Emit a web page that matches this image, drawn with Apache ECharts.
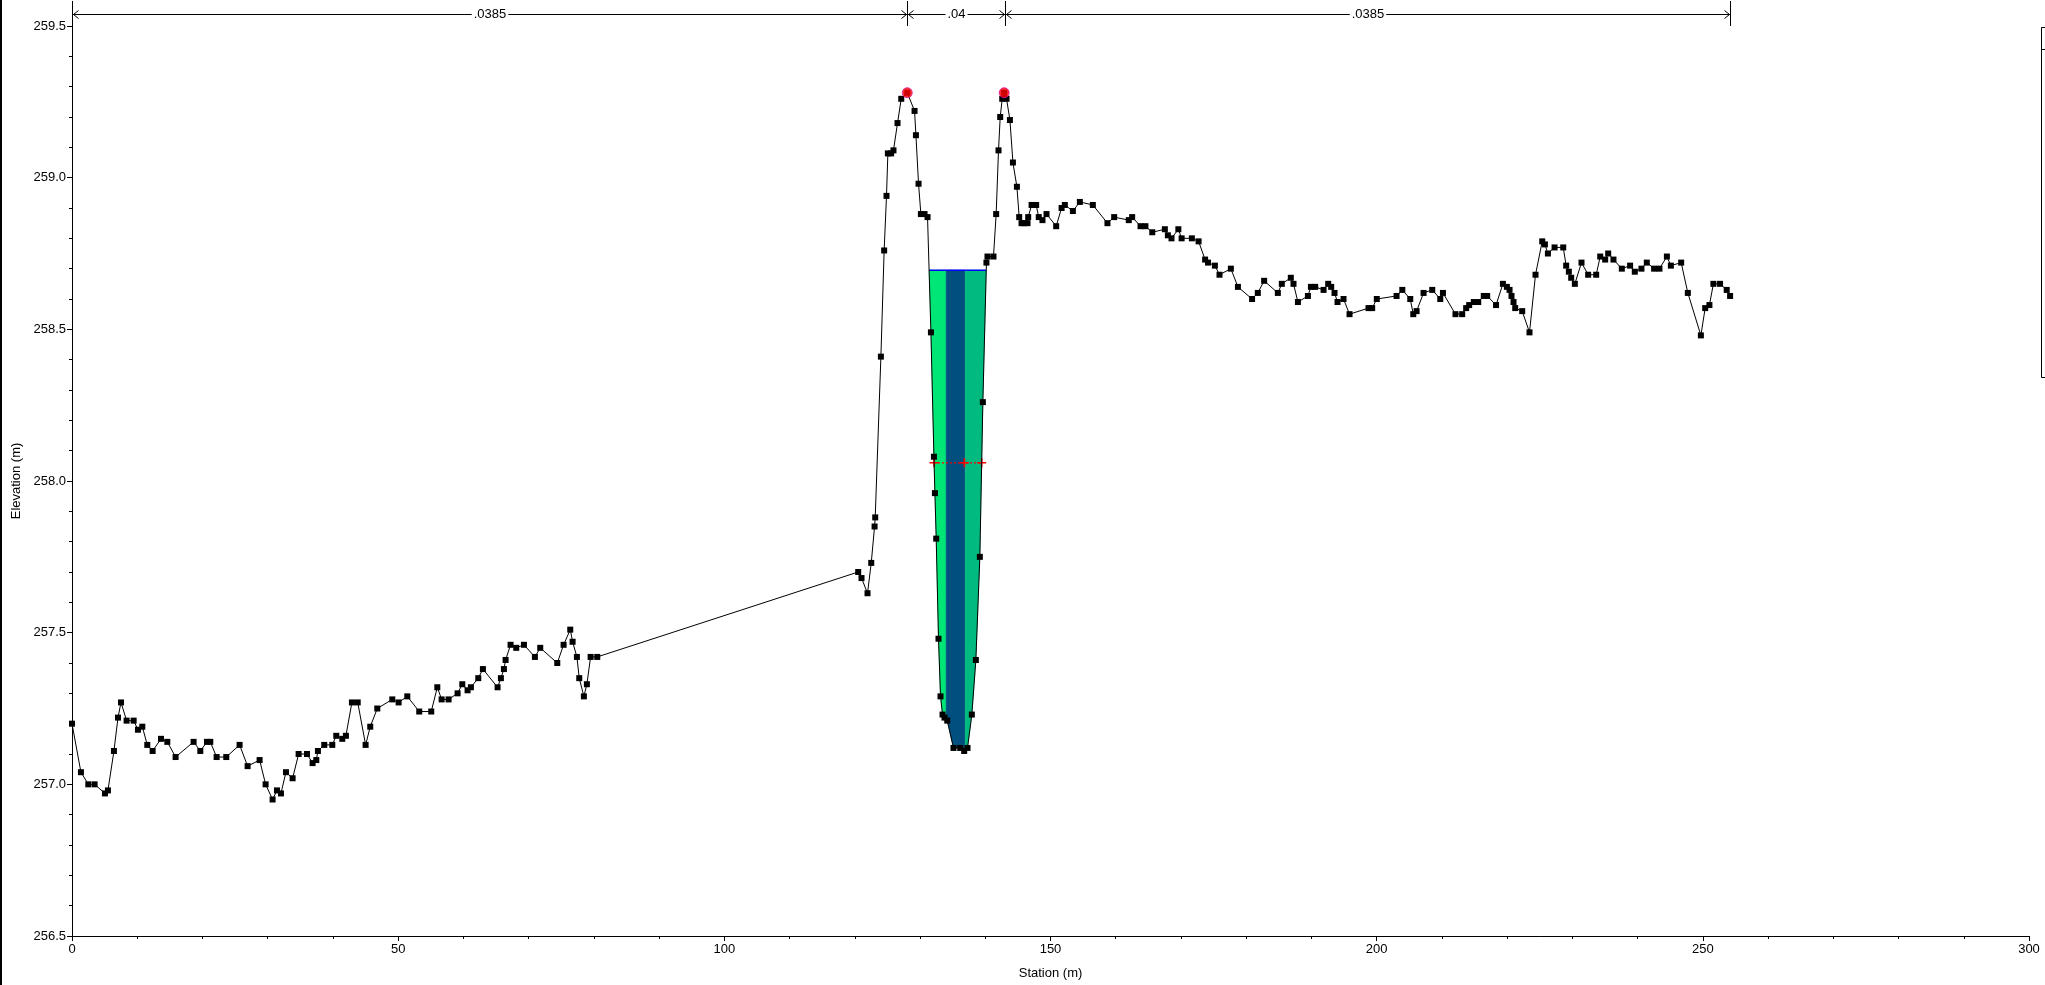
<!DOCTYPE html>
<html>
<head>
<meta charset="utf-8">
<script src="https://cdn.jsdelivr.net/npm/echarts@6/dist/echarts.min.js"></script>
<style>
html,body{margin:0;padding:0;background:#fff;}
#chart{width:2045px;height:985px;}
</style>
</head>
<body>
<div id="chart"></div>
<script>
// ---- Data ----
const stations = [
0.0,1.37,2.50,3.47,5.05,5.51,6.43,7.05,7.51,8.37,9.45,10.11,10.78,11.54,12.36,13.64,14.61,15.88,18.64,19.67,
20.69,21.2,22.17,23.65,25.69,26.92,28.76,29.68,30.75,31.42,32.03,32.80,33.82,34.74,36.02,36.88,37.45,37.70,38.67,39.90,
40.51,41.43,41.99,42.91,43.8,45.01,45.72,46.80,49.10,50.07,51.40,53.23,55.07,56.0,56.66,57.73,59.11,59.83,60.64,61.15,
62.28,62.99,65.24,65.75,66.21,66.47,67.23,68.1,69.28,70.96,71.78,74.39,75.36,76.38,76.74,77.40,77.76,78.47,78.93,79.50,
80.52,120.52,121.03,121.95,122.52,123.03,123.13,124.0,124.5,124.86,125.07,125.57,125.93,126.55,127.12,128.04,129.16,129.37,129.77,130.13,
130.69,131.15,131.67,132.13,132.28,132.48,132.83,133.14,133.45,133.75,134.17,135.13,136.16,136.77,137.28,137.94,138.56,139.17,139.63,140.18,
140.34,141.26,141.67,142.03,142.29,142.6,142.9,143.26,143.78,144.24,144.85,145.2,145.56,145.97,146.48,146.58,147.1,147.8,148.2,148.77,
149.39,150.87,151.7,152.2,153.43,154.5,156.49,158.73,159.76,162.0,162.52,163.8,164.55,165.6,167.53,167.99,168.55,169.6,170.1,171.67,
172.7,173.7,174.15,175.2,175.91,177.65,178.73,180.9,181.78,182.75,184.85,185.46,186.84,187.25,187.93,189.46,189.92,190.58,191.86,192.57,
193.03,193.54,194.0,194.92,195.84,198.75,199.31,200.02,203.05,203.93,205.15,205.61,206.12,207.19,208.52,209.75,210.16,212.08,213.11,213.72,
214.18,214.89,215.57,216.42,216.94,218.3,219.35,219.96,220.37,220.67,220.98,221.24,222.31,223.43,224.35,225.38,225.79,226.25,227.27,228.6,
229.05,229.46,229.82,230.38,231.4,232.42,233.65,234.27,235.03,235.49,236.3,237.58,238.85,239.57,240.59,241.41,242.53,243.35,244.49,245.1,
246.68,247.70,249.70,250.36,251.01,251.62,252.64,253.66,254.18
];
const elevations = [
257.20,257.04,257.00,257.00,256.97,256.98,257.11,257.22,257.27,257.21,257.21,257.18,257.19,257.13,257.11,257.15,257.14,257.09,257.14,257.11,
257.14,257.14,257.09,257.09,257.13,257.06,257.08,257.00,256.95,256.98,256.97,257.04,257.02,257.10,257.10,257.07,257.08,257.11,257.13,257.13,
257.16,257.15,257.16,257.27,257.27,257.13,257.19,257.25,257.28,257.27,257.29,257.24,257.24,257.32,257.28,257.28,257.30,257.33,257.31,257.32,
257.35,257.38,257.32,257.35,257.38,257.41,257.46,257.45,257.46,257.42,257.45,257.40,257.46,257.51,257.47,257.42,257.35,257.29,257.33,257.42,
257.42,257.70,257.68,257.63,257.73,257.85,257.88,258.41,258.76,258.94,259.08,259.08,259.09,259.18,259.26,259.28,259.22,259.14,258.98,258.88,
258.88,258.87,258.49,258.08,257.96,257.81,257.48,257.29,257.23,257.22,257.21,257.12,257.12,257.11,257.12,257.23,257.41,257.75,258.26,258.72,
258.74,258.74,258.88,259.09,259.20,259.26,259.28,259.26,259.19,259.05,258.97,258.87,258.85,258.85,258.85,258.87,258.91,258.91,258.87,258.86,
258.88,258.84,258.90,258.91,258.89,258.92,258.91,258.85,258.87,258.86,258.87,258.84,258.84,258.82,258.83,258.81,258.80,258.83,258.80,258.80,
258.79,258.73,258.72,258.71,258.68,258.70,258.64,258.60,258.62,258.66,258.62,258.65,258.67,258.65,258.59,258.61,258.64,258.64,258.63,258.65,
258.64,258.62,258.59,258.60,258.55,258.57,258.57,258.60,258.61,258.63,258.60,258.55,258.56,258.62,258.63,258.60,258.62,258.55,258.55,258.57,
258.58,258.59,258.59,258.61,258.61,258.58,258.65,258.64,258.63,258.61,258.59,258.57,258.56,258.49,258.68,258.79,258.78,258.75,258.77,258.77,
258.71,258.69,258.67,258.65,258.72,258.68,258.68,258.74,258.73,258.75,258.73,258.70,258.71,258.69,258.70,258.72,258.70,258.70,258.74,258.71,
258.72,258.62,258.48,258.57,258.58,258.65,258.65,258.63,258.61
];
const bankStations = [128.04, 142.9];
const bankElevations = [259.28, 259.28];
const wsElevation = 258.695;
const critElevation = 258.06;
const critStations = [132.15, 136.8, 139.45];
const velStripBreaks = [134.0, 136.93];
const velStripColors = ['#00E676', '#004F7E', '#00BA80'];
const nBreaks = [0, 127.96, 142.95, 254.18];
const nValues = ['.0385', '.04', '.0385'];
const xMin = 0, xMax = 300, xInterval = 50;
const yMin = 256.5, yMax = 259.5, yInterval = 0.5;

// ---- helpers ----
const ground = stations.map((s, i) => [s, elevations[i]]);
function groundAt(x) {
  for (let i = 0; i < stations.length - 1; i++) {
    if (x >= stations[i] && x <= stations[i + 1]) {
      const t = (x - stations[i]) / (stations[i + 1] - stations[i] || 1);
      return elevations[i] + t * (elevations[i + 1] - elevations[i]);
    }
  }
  return elevations[elevations.length - 1];
}
let iMin = -1;
for (let i = 0; i < stations.length; i++) {
  if (stations[i] > bankStations[0] && stations[i] < bankStations[1]) {
    if (iMin < 0 || elevations[i] < elevations[iMin]) iMin = i;
  }
}
function crossing(i0, step) {
  let i = i0;
  while (elevations[i + step] < wsElevation) i += step;
  const a = i, b = i + step;
  const t = (wsElevation - elevations[a]) / (elevations[b] - elevations[a]);
  return stations[a] + t * (stations[b] - stations[a]);
}
const wsLeft = crossing(iMin, -1);
const wsRight = crossing(iMin, 1);

const FONT = "'Liberation Sans', Arial, sans-serif";

const chart = echarts.init(document.getElementById('chart'), null, {renderer: 'canvas'});

const option = {
  animation: false,
  backgroundColor: '#ffffff',
  grid: {left: 72, right: 16, top: 26, bottom: 49},
  xAxis: {
    type: 'value', min: xMin, max: xMax, interval: xInterval,
    name: 'Station (m)', nameLocation: 'middle', nameGap: 31,
    nameTextStyle: {fontFamily: FONT, fontSize: 13, color: '#000'},
    axisLine: {show: true, onZero: false, lineStyle: {color: '#000', width: 1}},
    axisTick: {show: true, length: 5, lineStyle: {color: '#000'}},
    minorTick: {show: true, splitNumber: 5, length: 3, lineStyle: {color: '#000'}},
    axisLabel: {fontFamily: FONT, fontSize: 13, color: '#000', margin: 7},
    splitLine: {show: false}
  },
  yAxis: {
    type: 'value', min: yMin, max: yMax, interval: yInterval,
    name: 'Elevation (m)', nameLocation: 'middle', nameGap: 49, nameRotate: 90,
    nameTextStyle: {fontFamily: FONT, fontSize: 13, color: '#000'},
    axisLine: {show: true, onZero: false, lineStyle: {color: '#000', width: 1}},
    axisTick: {show: true, length: 5, lineStyle: {color: '#000'}},
    minorTick: {show: true, splitNumber: 5, length: 3, lineStyle: {color: '#000'}},
    axisLabel: {fontFamily: FONT, fontSize: 13, color: '#000', margin: 6,
      formatter: v => v.toFixed(1)},
    splitLine: {show: false}
  },
  graphic: [
    {type: 'rect', shape: {x: 0, y: 0, width: 2, height: 985}, style: {fill: '#000'}, silent: true},
    {type: 'rect', shape: {x: 2041.5, y: 27.5, width: 10, height: 350}, style: {fill: null, stroke: '#000', lineWidth: 1}, silent: true},
    {type: 'line', shape: {x1: 2041.5, y1: 49.5, x2: 2045, y2: 49.5}, style: {stroke: '#000', lineWidth: 1}, silent: true}
  ],
  series: [
    {
      name: 'water', type: 'custom', z: 1,
      data: [[wsLeft, wsElevation]],
      renderItem: function (params, api) {
        const bounds = [wsLeft].concat(velStripBreaks, [wsRight]);
        const children = [];
        for (let j = 0; j < bounds.length - 1; j++) {
          const b0 = bounds[j], b1 = bounds[j + 1];
          const pts = [api.coord([b0, wsElevation]), api.coord([b1, wsElevation])];
          pts.push(api.coord([b1, Math.min(groundAt(b1), wsElevation)]));
          for (let i = stations.length - 1; i >= 0; i--) {
            if (stations[i] > b0 && stations[i] < b1) pts.push(api.coord([stations[i], Math.min(elevations[i], wsElevation)]));
          }
          pts.push(api.coord([b0, Math.min(groundAt(b0), wsElevation)]));
          children.push({type: 'polygon', shape: {points: pts}, style: {fill: velStripColors[j], stroke: velStripColors[j], lineWidth: 0.5}});
        }
        return {type: 'group', children: children};
      }
    },
    {
      name: 'WS', type: 'line', z: 3, symbol: 'none',
      data: [[wsLeft, wsElevation], [wsRight, wsElevation]],
      lineStyle: {color: '#0000FF', width: 1.5}
    },
    {
      name: 'Crit', type: 'line', z: 4,
      data: critStations.map(s => [s, critElevation]),
      symbol: 'path://M3.3,0h1.4v8h-1.4z M0,3.3h8v1.4h-8z', symbolSize: 9,
      itemStyle: {color: '#FF0000'},
      lineStyle: {color: '#FF0000', width: 1.2, type: [2, 2]}
    },
    {
      name: 'Ground', type: 'line', z: 5,
      data: ground, showAllSymbol: true,
      symbol: 'rect', symbolSize: 6,
      itemStyle: {color: '#000'},
      lineStyle: {color: '#000', width: 1}
    },
    {
      name: 'Bank Sta', type: 'scatter', z: 6,
      data: bankStations.map((s, i) => [s, bankElevations[i]]),
      symbol: 'circle', symbolSize: 10,
      itemStyle: {color: '#FF0000', borderColor: '#E0109A', borderWidth: 1}
    },
    {
      name: 'nValues', type: 'custom', z: 7, clip: false, silent: true,
      data: [[0, yMax]],
      renderItem: function (params, api) {
        const yTop = api.coord([xMin, yMax])[1];
        const ly = Math.round(yTop - 12) + 0.5;
        const children = [];
        const xs = nBreaks.map(b => Math.round(api.coord([b, yMax])[0]) + 0.5);
        xs.forEach(x => {
          children.push({type: 'line', shape: {x1: x, y1: 1, x2: x, y2: yTop}, style: {stroke: '#000', lineWidth: 1}});
        });
        for (let i = 0; i < nValues.length; i++) {
          const x0 = xs[i], x1 = xs[i + 1];
          children.push({type: 'line', shape: {x1: x0, y1: ly, x2: x1, y2: ly}, style: {stroke: '#000', lineWidth: 1}});
          children.push({type: 'polyline', shape: {points: [[x0 + 6, ly - 4], [x0 + 1, ly], [x0 + 6, ly + 4]]}, style: {stroke: '#000', fill: null, lineWidth: 1}});
          children.push({type: 'polyline', shape: {points: [[x1 - 6, ly - 4], [x1 - 1, ly], [x1 - 6, ly + 4]]}, style: {stroke: '#000', fill: null, lineWidth: 1}});
          children.push({type: 'text', x: (x0 + x1) / 2, y: ly,
            style: {text: nValues[i], fontFamily: FONT, fontSize: 13, fill: '#000', align: 'center', verticalAlign: 'middle',
              backgroundColor: '#fff', padding: [0, 2]}});
        }
        return {type: 'group', children: children};
      }
    }
  ]
};
chart.setOption(option);
</script>
</body>
</html>
